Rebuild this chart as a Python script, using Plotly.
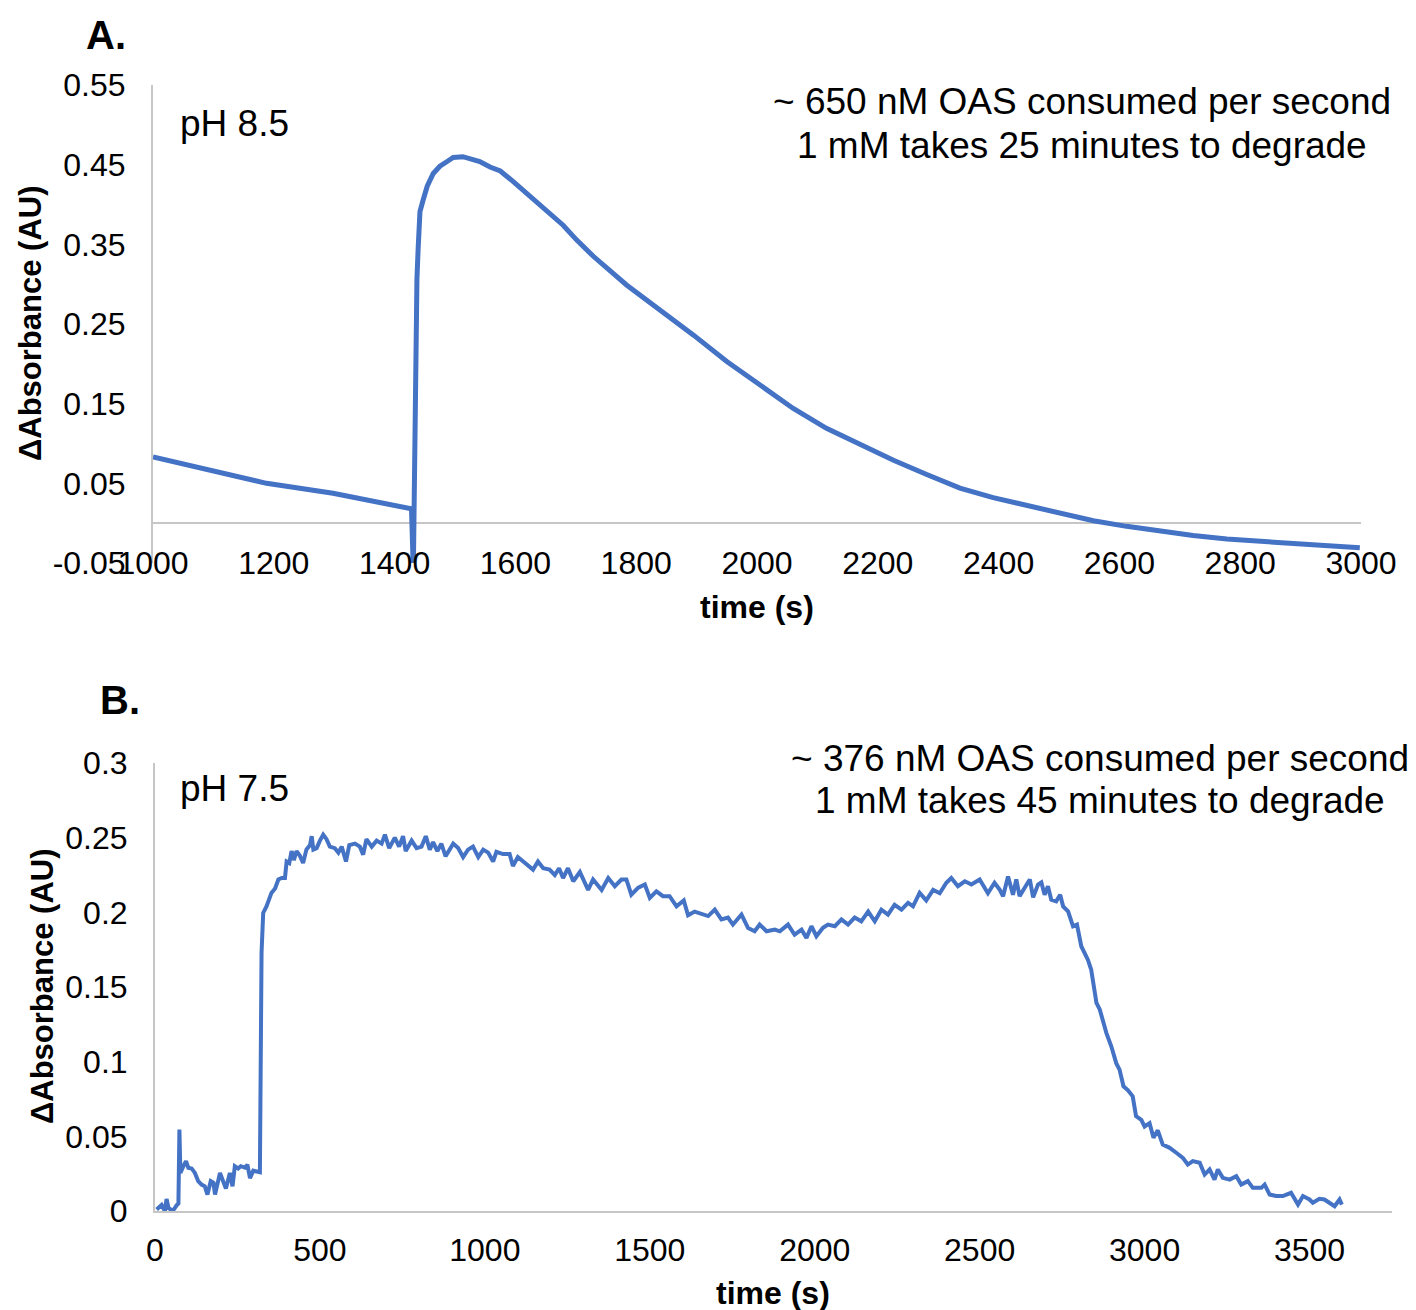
import plotly.graph_objects as go

# Panel A: pH 8.5 absorbance trace
a_time = [1000, 1078, 1188, 1298, 1409, 1428, 1431, 1434, 1437, 1439, 1442, 1447, 1454,
          1464, 1475, 1487, 1497, 1513, 1530, 1541, 1558, 1575, 1596, 1624, 1652, 1679,
          1702, 1729, 1784, 1839, 1895, 1950, 2005, 2060, 2115, 2171, 2226, 2281, 2336,
          2391, 2446, 2502, 2557, 2612, 2667, 2722, 2778, 2833, 2888, 2943, 2998]
a_abs = [0.083, 0.069, 0.050, 0.0376, 0.021, 0.018, -0.06, 0.22, 0.307, 0.345, 0.391,
         0.405, 0.423, 0.439, 0.448, 0.454, 0.459, 0.460, 0.456, 0.454, 0.447, 0.442,
         0.429, 0.410, 0.391, 0.374, 0.355, 0.335, 0.299, 0.268, 0.236, 0.203, 0.173,
         0.144, 0.119, 0.098, 0.079, 0.061, 0.044, 0.032, 0.022, 0.0125, 0.003, -0.004,
         -0.0105, -0.0155, -0.020, -0.023, -0.0255, -0.028, -0.031]
a_ytick_vals = [-0.05, 0.05, 0.15, 0.25, 0.35, 0.45, 0.55]
a_ytick_text = ["-0.05", "0.05", "0.15", "0.25", "0.35", "0.45", "0.55"]

# Panel B: pH 7.5 absorbance trace
b_time = [5, 20, 30, 35, 41, 54, 66, 71, 74, 77, 86, 94, 101, 111, 121, 131, 141, 151, 159,
          169, 177, 182, 197, 207, 215, 227, 235, 242, 252, 260, 273, 280, 288, 298, 308,
          318, 323, 328, 338, 348, 353, 364, 374, 384, 394, 399, 407, 414, 421, 429, 439,
          449, 459, 470, 475, 480, 490, 500, 510, 520, 530, 545, 556, 566, 579, 589, 606,
          621, 631, 641, 657, 672, 687, 697, 710, 727, 740, 752, 760, 778, 793, 808, 821,
          833, 843, 856, 868, 881, 904, 919, 934, 949, 964, 980, 995, 1010, 1025, 1035,
          1055, 1075, 1085, 1100, 1116, 1131, 1146, 1161, 1177, 1196, 1212, 1225, 1237,
          1252, 1268, 1288, 1313, 1328, 1354, 1374, 1394, 1414, 1429, 1444, 1465, 1485,
          1500, 1520, 1540, 1560, 1581, 1603, 1616, 1636, 1657, 1677, 1697, 1717, 1737,
          1752, 1778, 1798, 1818, 1833, 1854, 1879, 1894, 1919, 1939, 1960, 1975, 1990,
          2005, 2025, 2040, 2061, 2081, 2101, 2121, 2141, 2162, 2182, 2202, 2222, 2242,
          2263, 2283, 2298, 2318, 2338, 2359, 2379, 2399, 2414, 2434, 2455, 2475, 2500,
          2525, 2545, 2561, 2571, 2586, 2601, 2611, 2621, 2636, 2652, 2662, 2677, 2687,
          2697, 2707, 2717, 2732, 2744, 2753, 2768, 2783, 2795, 2808, 2818, 2828, 2838,
          2854, 2864, 2874, 2884, 2899, 2914, 2924, 2936, 2949, 2964, 2974, 2990, 3000,
          3015, 3027, 3040, 3055, 3076, 3096, 3116, 3131, 3146, 3167, 3182, 3197, 3212,
          3222, 3237, 3258, 3278, 3293, 3313, 3328, 3354, 3364, 3379, 3399, 3419, 3444,
          3465, 3480, 3500, 3510, 3530, 3545, 3561, 3576, 3591, 3598]
b_abs = [0.001, 0.004, 0.0, 0.008, 0.002, 0.0, 0.004, 0.005, 0.0545, 0.0255, 0.030, 0.0333,
         0.029, 0.0285, 0.0255, 0.020, 0.0177, 0.0165, 0.011, 0.020, 0.019, 0.011, 0.0255,
         0.019, 0.015, 0.0255, 0.0165, 0.030, 0.0285, 0.030, 0.029, 0.031, 0.022, 0.027,
         0.0265, 0.026, 0.173, 0.1996, 0.204, 0.211, 0.213, 0.216, 0.222, 0.223, 0.223,
         0.234, 0.233, 0.241, 0.235, 0.241, 0.238, 0.233, 0.242, 0.245, 0.251, 0.242,
         0.243, 0.248, 0.252, 0.249, 0.244, 0.243, 0.240, 0.244, 0.234, 0.245, 0.246,
         0.244, 0.2386, 0.249, 0.244, 0.248, 0.246, 0.252, 0.243, 0.250, 0.244, 0.251,
         0.241, 0.248, 0.243, 0.244, 0.251, 0.242, 0.247, 0.241, 0.246, 0.2375, 0.246,
         0.243, 0.237, 0.242, 0.244, 0.237, 0.242, 0.240, 0.234, 0.2405, 0.239, 0.239,
         0.231, 0.237, 0.234, 0.232, 0.2286, 0.234, 0.2295, 0.2286, 0.225, 0.2295, 0.223,
         0.2295, 0.2208, 0.227, 0.215, 0.222, 0.215, 0.223, 0.2175, 0.222, 0.222, 0.2118,
         0.2165, 0.2186, 0.2096, 0.214, 0.2108, 0.2108, 0.204, 0.208, 0.198, 0.2005, 0.199,
         0.1975, 0.2018, 0.1953, 0.1965, 0.1918, 0.1985, 0.1895, 0.1873, 0.1918, 0.1873,
         0.1884, 0.1873, 0.1918, 0.185, 0.1884, 0.1829, 0.1907, 0.184, 0.1896, 0.1918,
         0.1907, 0.1953, 0.1918, 0.1965, 0.194, 0.2005, 0.194, 0.2018, 0.1985, 0.205,
         0.2018, 0.2063, 0.204, 0.213, 0.208, 0.215, 0.2128, 0.2198, 0.223, 0.2175, 0.2208,
         0.2186, 0.222, 0.2128, 0.2198, 0.215, 0.2108, 0.224, 0.2118, 0.222, 0.2108, 0.2163,
         0.222, 0.210, 0.2186, 0.220, 0.2118, 0.2175, 0.2085, 0.2074, 0.2118, 0.204, 0.2007,
         0.1906, 0.1918, 0.1773, 0.1728, 0.1683, 0.1617, 0.1394, 0.135, 0.126, 0.1193,
         0.1103, 0.099, 0.0947, 0.0835, 0.081, 0.0768, 0.0635, 0.061, 0.0566, 0.0588, 0.049,
         0.054, 0.0445, 0.0423, 0.039, 0.0356, 0.0311, 0.0334, 0.0323, 0.0244, 0.0278, 0.021,
         0.0278, 0.0222, 0.021, 0.0233, 0.0177, 0.02, 0.0155, 0.0155, 0.0177, 0.011, 0.01,
         0.01, 0.0122, 0.0043, 0.01, 0.0077, 0.0055, 0.0082, 0.0077, 0.0055, 0.0032, 0.0077,
         0.0043]

W, H = 1416, 1310
LINE = "#4472C4"
AXIS = "#C6C6C6"
FONT = "Liberation Sans, Arial, sans-serif"


def px_x(p):
    return p / W


def px_y(p):
    return 1 - p / H


fig = go.Figure()
fig.add_trace(go.Scatter(x=a_time, y=a_abs, mode="lines", xaxis="x", yaxis="y",
                         line=dict(color=LINE, width=5), showlegend=False))
fig.add_trace(go.Scatter(x=b_time, y=b_abs, mode="lines", xaxis="x2", yaxis="y2",
                         line=dict(color=LINE, width=4), showlegend=False))

tick_font = dict(family=FONT, size=32, color="black")

fig.update_layout(
    width=W, height=H, margin=dict(l=0, r=0, t=0, b=0, autoexpand=False),
    paper_bgcolor="white", plot_bgcolor="white",
    font=dict(family=FONT, color="black"),
    xaxis=dict(domain=[px_x(153), px_x(1361)], anchor="y", range=[1000, 3000],
               dtick=200, tick0=1000, showgrid=False, zeroline=False, showline=False,
               ticks="", tickfont=tick_font, ticklabelstandoff=-22, automargin=False),
    yaxis=dict(domain=[px_y(563), px_y(85)], anchor="x", range=[-0.05, 0.55],
               tickvals=a_ytick_vals, ticktext=a_ytick_text, showgrid=False,
               zeroline=True, zerolinecolor=AXIS, zerolinewidth=2,
               showline=True, linecolor=AXIS, linewidth=2, ticks="",
               tickfont=tick_font, ticklabelstandoff=19, automargin=False),
    xaxis2=dict(domain=[px_x(155), px_x(1392)], anchor="y2", range=[0, 3750],
                dtick=500, tick0=0, showgrid=False, zeroline=False, showline=True,
                linecolor=AXIS, linewidth=2, ticks="", tickfont=tick_font,
                ticklabelstandoff=10, automargin=False),
    yaxis2=dict(domain=[px_y(1211), px_y(763)], anchor="x2", range=[0, 0.3],
                dtick=0.05, tick0=0, showgrid=False, zeroline=False, showline=True,
                linecolor=AXIS, linewidth=2, ticks="", tickfont=tick_font,
                ticklabelstandoff=19, automargin=False),
)

ann = []


def text(x, y, s, size, bold=False, xanchor="center", angle=0):
    ann.append(dict(x=px_x(x), y=px_y(y), xref="paper", yref="paper", text=s,
                    showarrow=False, xanchor=xanchor, yanchor="middle", textangle=angle,
                    font=dict(family=FONT, size=size, color="black",
                              weight="bold" if bold else "normal")))


# panel letters
text(106, 35, "A.", 40, bold=True)
text(120, 700, "B.", 40, bold=True)

# axis titles
text(757, 607, "time (s)", 32, bold=True)
text(773, 1293, "time (s)", 32, bold=True)
text(30, 324, "ΔAbsorbance (AU)", 31, bold=True, angle=-90)
text(42, 987, "ΔAbsorbance (AU)", 31, bold=True, angle=-90)

# in-plot notes
text(178, 124, "pH 8.5", 37, xanchor="left")
text(1082, 102, "~ 650 nM OAS consumed per second", 37)
text(1082, 145, "1 mM takes 25 minutes to degrade", 37)
text(178, 788, "pH 7.5", 37, xanchor="left")
text(1100, 758, "~ 376 nM OAS consumed per second", 37)
text(1100, 800, "1 mM takes 45 minutes to degrade", 37)

fig.update_layout(annotations=ann)
fig.write_html("out.html")
